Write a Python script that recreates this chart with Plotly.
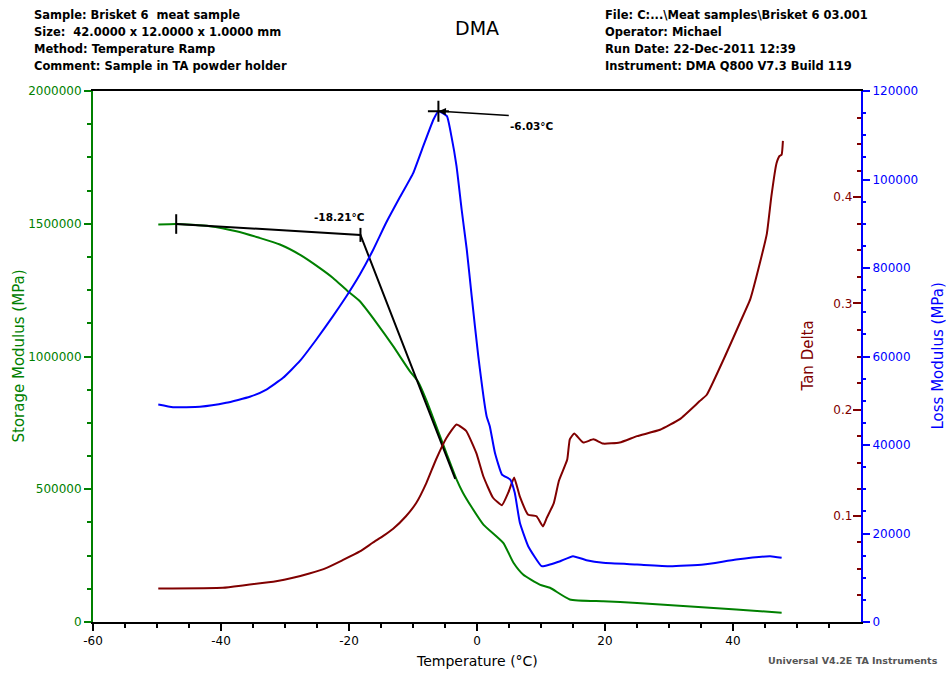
import plotly.graph_objects as go

# ---------------- data ----------------
storage_T = [-49.8, -47.0, -41.8, -37.6, -34.0, -30.8, -27.7, -24.6, -22.5, -20.2, -18.3,
             -15.7, -13.1, -10.5, -9.2, -7.9, -4.8, -3.2, -2.2, -0.9, 1.0, 4.1, 5.7, 7.2,
             9.8, 11.4, 14.5, 19.7, 25.0, 32.2, 40.5, 47.6]
storage_mod = [1497000, 1499000, 1491000, 1472000, 1447000, 1422000, 1384000, 1334000,
               1296000, 1246000, 1208000, 1127000, 1039000, 945000, 905000, 835000, 637000,
               537000, 487000, 435000, 367000, 298000, 223000, 179000, 141000, 129000,
               85000, 78000, 72000, 60000, 47000, 35000]

loss_T = [-49.8, -47.5, -43.3, -39.2, -35.5, -32.9, -30.3, -27.7, -25.1, -22.5, -20.4, -18.3,
          -16.2, -14.2, -12.1, -9.95, -8.4, -6.8, -6.03, -4.7, -4.0, -3.2, -2.4, -1.6, -0.83,
          0.2, 1.5, 2.0, 2.8, 3.9, 5.2, 5.9, 6.7, 8.0, 10.1, 11.4, 13.0, 15.0, 17.1, 19.7,
          25.0, 30.2, 35.4, 40.5, 45.8, 47.6]
loss_mod = [49150, 48550, 48630, 49530, 50900, 52540, 55180, 58940, 63840, 69110, 73630,
            78530, 84180, 90210, 95860, 101500, 107530, 113560, 115440, 114310, 109790,
            103010, 93220, 84180, 73630, 60070, 46510, 44250, 38240, 33330, 32200, 29200,
            22420, 17130, 12610, 12990, 13740, 14870, 13970, 13370, 12990, 12610, 12990,
            14120, 14870, 14500]

tan_T = [-49.8, -39.7, -36.6, -31.4, -28.75, -26.2, -23.5, -21.0, -18.3, -16.3, -14.7, -13.1,
         -11.1, -9.5, -7.9, -6.4, -4.8, -3.2, -1.7, -0.1, 1.0, 2.5, 3.9, 4.9, 5.8, 6.7, 8.0,
         9.3, 10.3, 10.9, 12.0, 12.8, 14.1, 14.5, 15.2, 16.6, 18.2, 19.7, 22.3, 25.0, 28.6,
         31.7, 34.8, 35.9, 39.0, 41.1, 42.7, 44.2, 45.3, 46.0, 46.8, 47.3, 47.6, 47.8]
tan_delta = [0.0315, 0.0322, 0.0344, 0.0384, 0.0416, 0.0457, 0.051, 0.0582, 0.0664, 0.0746,
             0.0808, 0.0878, 0.0996, 0.112, 0.131, 0.153, 0.173, 0.186, 0.180, 0.159, 0.137,
             0.117, 0.110, 0.122, 0.136, 0.118, 0.101, 0.0996, 0.090, 0.098, 0.112, 0.133,
             0.153, 0.172, 0.1775, 0.169, 0.172, 0.168, 0.169, 0.175, 0.181, 0.191, 0.208,
             0.214, 0.2535, 0.282, 0.304, 0.338, 0.366, 0.401, 0.432, 0.439, 0.440, 0.453]

# onset analysis (storage modulus) and peak (loss modulus)
onset_T = [-47.0, -18.21, -3.4]
onset_S = [1499000, 1458000, 539000]
onset_label = "-18.21°C"
peak_T = -6.03
peak_L = 115440
peak_tail_T = 5.2
peak_tail_L = 114460
peak_label = "-6.03°C"

x_tickvals = [-60, -40, -20, 0, 20, 40, 60]
x_ticktext = ["-60", "-40", "-20", "0", "20", "40", "60"]
s_tickvals = [0, 500000, 1000000, 1500000, 2000000]
s_ticktext = ["0", "500000", "1000000", "1500000", "2000000"]
l_tickvals = [0, 20000, 40000, 60000, 80000, 100000, 120000]
l_ticktext = ["0", "20000", "40000", "60000", "80000", "100000", "120000"]
t_tickvals = [0.1, 0.2, 0.3, 0.4]
t_ticktext = ["0.1", "0.2", "0.3", "0.4"]

header_left = ["Sample: Brisket 6  meat sample",
               "Size:  42.0000 x 12.0000 x 1.0000 mm",
               "Method: Temperature Ramp",
               "Comment: Sample in TA powder holder"]
header_right = ["File: C:...\\Meat samples\\Brisket 6 03.001",
                "Operator: Michael",
                "Run Date: 22-Dec-2011 12:39",
                "Instrument: DMA Q800 V7.3 Build 119"]

# ---------------- style ----------------
GREEN = "#008000"
BLUE = "#0000FF"
DRED = "#800000"
FONT = "DejaVu Sans"
W, H = 946, 673
L_M, R_M, T_M, B_M = 93, 85, 91, 50.5
PW = W - L_M - R_M
PH = H - T_M - B_M


def xp(px):
    return (px - L_M) / PW


def yp(py):
    return (H - B_M - py) / PH


fig = go.Figure()
fig.add_trace(go.Scatter(x=storage_T, y=storage_mod, mode="lines",
                         line=dict(color=GREEN, width=2, shape="spline", smoothing=0.5),
                         yaxis="y", showlegend=False))
fig.add_trace(go.Scatter(x=onset_T, y=onset_S, mode="lines",
                         line=dict(color="black", width=2), yaxis="y", showlegend=False))
fig.add_trace(go.Scatter(x=[onset_T[0]], y=[onset_S[0]], mode="markers",
                         marker=dict(symbol="line-ns", size=14, line=dict(color="black", width=2)),
                         yaxis="y", showlegend=False))
fig.add_trace(go.Scatter(x=[onset_T[1]], y=[onset_S[1]], mode="markers",
                         marker=dict(symbol="line-ns", size=10, line=dict(color="black", width=2)),
                         yaxis="y", showlegend=False))
fig.add_trace(go.Scatter(x=tan_T, y=tan_delta, mode="lines",
                         line=dict(color=DRED, width=2, shape="spline", smoothing=0.4),
                         yaxis="y2", showlegend=False))
fig.add_trace(go.Scatter(x=loss_T, y=loss_mod, mode="lines",
                         line=dict(color=BLUE, width=2, shape="spline", smoothing=0.4),
                         yaxis="y3", showlegend=False))
fig.add_trace(go.Scatter(x=[peak_T], y=[peak_L], mode="markers",
                         marker=dict(symbol="cross-thin", size=15, line=dict(color="black", width=2)),
                         yaxis="y3", showlegend=False))

annotations = []
for i, t in enumerate(header_left):
    annotations.append(dict(text=t, xref="paper", yref="paper", x=xp(32), y=yp(15 + 17 * i),
                            xanchor="left", yanchor="middle", showarrow=False,
                            font=dict(family=FONT, size=11.5, color="black", weight="bold")))
for i, t in enumerate(header_right):
    annotations.append(dict(text=t, xref="paper", yref="paper", x=xp(603), y=yp(15 + 17 * i),
                            xanchor="left", yanchor="middle", showarrow=False,
                            font=dict(family=FONT, size=11.5, color="black", weight="bold")))
annotations += [
    dict(text="DMA", xref="paper", yref="paper", x=xp(477), y=yp(28), xanchor="center",
         yanchor="middle", showarrow=False, font=dict(family=FONT, size=19, color="black")),
    dict(text="Temperature (°C)", xref="paper", yref="paper", x=xp(477), y=yp(662),
         xanchor="center", yanchor="middle", showarrow=False,
         font=dict(family=FONT, size=14, color="black")),
    dict(text="Storage Modulus (MPa)", xref="paper", yref="paper", x=xp(18), y=0.5,
         xanchor="center", yanchor="middle", textangle=-90, showarrow=False,
         font=dict(family=FONT, size=15, color=GREEN)),
    dict(text="Tan Delta", xref="paper", yref="paper", x=xp(807), y=0.5,
         xanchor="center", yanchor="middle", textangle=-90, showarrow=False,
         font=dict(family=FONT, size=15, color=DRED)),
    dict(text="Loss Modulus (MPa)", xref="paper", yref="paper", x=xp(937), y=0.5,
         xanchor="center", yanchor="middle", textangle=-90, showarrow=False,
         font=dict(family=FONT, size=15, color=BLUE)),
    dict(text="Universal V4.2E TA Instruments", xref="paper", yref="paper", x=xp(940),
         y=yp(661), xanchor="right", yanchor="middle", showarrow=False,
         font=dict(family=FONT, size=9.5, color="#555555", weight="bold")),
    dict(text=onset_label, xref="x", yref="y", x=onset_T[1], y=onset_S[1],
         xanchor="right", yanchor="bottom", xshift=7, yshift=10, showarrow=False,
         font=dict(family=FONT, size=10.5, color="black", weight="bold")),
    dict(text=peak_label, xref="x", yref="y3", x=peak_tail_T, y=peak_tail_L,
         xanchor="left", yanchor="top", xshift=-2, yshift=-2, showarrow=False,
         font=dict(family=FONT, size=10.5, color="black", weight="bold")),
    dict(text="", xref="x", yref="y3", x=peak_T, y=peak_L, axref="x", ayref="y3",
         ax=peak_tail_T, ay=peak_tail_L, showarrow=True, arrowhead=2, arrowsize=1,
         arrowwidth=1.5, arrowcolor="black"),
]

fig.update_layout(
    width=W, height=H, autosize=False,
    margin=dict(l=L_M, r=R_M, t=T_M, b=B_M, pad=0),
    paper_bgcolor="white", plot_bgcolor="white",
    font=dict(family=FONT, size=12),
    showlegend=False,
    xaxis=dict(range=[-60, 60], tickvals=x_tickvals, ticktext=x_ticktext,
               showline=True, linecolor="black", linewidth=2, mirror=True,
               ticks="outside", ticklen=7, tickwidth=2, tickcolor="black",
               minor=dict(dtick=5, tick0=-60, ticks="outside", ticklen=4, tickwidth=2,
                          tickcolor="black", showgrid=False),
               showgrid=False, zeroline=False, tickfont=dict(color="black", size=12)),
    yaxis=dict(range=[0, 2000000], tickvals=s_tickvals, ticktext=s_ticktext,
               showline=True, linecolor=GREEN, linewidth=2,
               ticks="outside", ticklen=7, tickwidth=2, tickcolor=GREEN,
               minor=dict(dtick=125000, tick0=0, ticks="outside", ticklen=4, tickwidth=2,
                          tickcolor=GREEN, showgrid=False),
               showgrid=False, zeroline=False, tickfont=dict(color=GREEN, size=12)),
    yaxis2=dict(range=[0, 0.5], overlaying="y", side="right", anchor="x",
                tickvals=t_tickvals, ticktext=t_ticktext,
                showline=False, ticks="inside", ticklen=8, tickwidth=2, tickcolor=DRED,
                ticklabelposition="inside",
                minor=dict(dtick=0.025, tick0=0, ticks="inside", ticklen=4, tickwidth=2,
                           tickcolor=DRED, showgrid=False),
                showgrid=False, zeroline=False, tickfont=dict(color=DRED, size=12)),
    yaxis3=dict(range=[0, 120000], overlaying="y", side="right", anchor="x",
                tickvals=l_tickvals, ticktext=l_ticktext,
                showline=True, linecolor=BLUE, linewidth=2,
                ticks="outside", ticklen=7, tickwidth=2, tickcolor=BLUE,
                minor=dict(dtick=5000, tick0=0, ticks="outside", ticklen=3, tickwidth=2,
                           tickcolor=BLUE, showgrid=False),
                showgrid=False, zeroline=False, tickfont=dict(color=BLUE, size=12)),
    annotations=annotations,
)

fig.write_html("out.html", config={"displayModeBar": False},
               post_script="document.body.style.margin='0';document.body.style.overflow='hidden';")
